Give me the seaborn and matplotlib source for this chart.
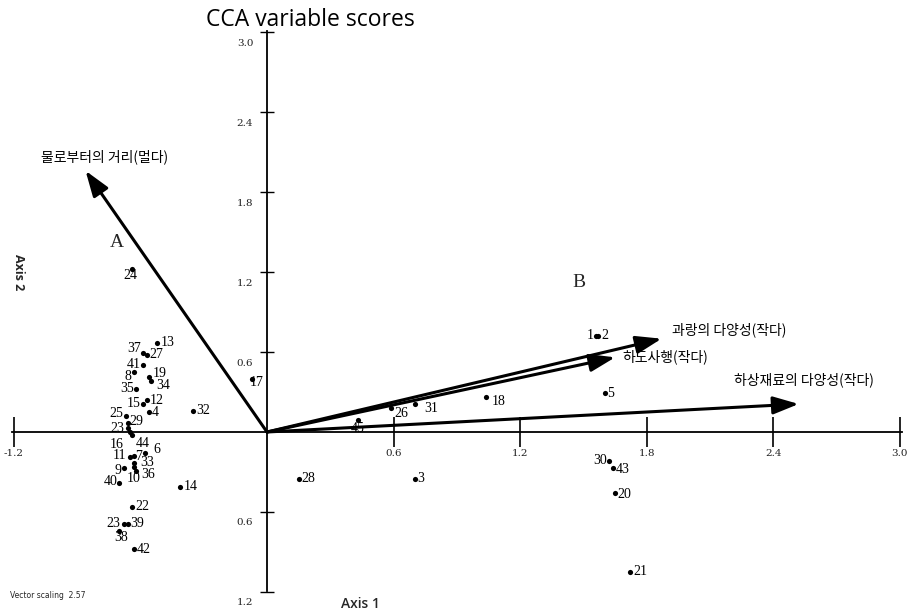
import matplotlib
matplotlib.use("Agg")
import matplotlib.pyplot as plt
import seaborn as sns
import pandas as pd

# ---------------- data ----------------
site_labels = ["13", "37", "27", "41", "19", "8", "34", "35", "15", "12", "4",
               "25", "29", "23", "16", "44", "11", "7", "6", "33", "9", "10",
               "36", "40", "14", "22", "23", "39", "38", "42", "32", "17", "24",
               "28", "3", "45", "26", "31", "18", "1", "2", "5", "30", "43",
               "20", "21"]
site_x = [-0.52, -0.59, -0.57, -0.59, -0.56, -0.63, -0.55, -0.62, -0.59, -0.57, -0.56,
          -0.67, -0.66, -0.66, -0.65, -0.64, -0.65, -0.63, -0.58, -0.63, -0.68, -0.63,
          -0.62, -0.70, -0.41, -0.64, -0.68, -0.66, -0.70, -0.63, -0.35, -0.07, -0.64,
          0.15, 0.70, 0.43, 0.59, 0.70, 1.04, 1.56, 1.57, 1.60, 1.62, 1.64,
          1.65, 1.72]
site_y = [0.67, 0.59, 0.58, 0.50, 0.41, 0.45, 0.38, 0.32, 0.21, 0.24, 0.15,
          0.12, 0.07, 0.03, 0.00, -0.02, -0.19, -0.18, -0.16, -0.23, -0.27, -0.26,
          -0.29, -0.38, -0.41, -0.56, -0.69, -0.69, -0.74, -0.88, 0.16, 0.40, 1.22,
          -0.35, -0.35, 0.09, 0.18, 0.21, 0.26, 0.72, 0.72, 0.29, -0.22, -0.27,
          -0.46, -1.05]

var_names = ["물로부터의 거리(멀다)", "과랑의 다양성(작다)", "하도사행(작다)", "하상재료의 다양성(작다)"]
var_x = [-0.86, 1.87, 1.65, 2.52]
var_y = [1.96, 0.70, 0.56, 0.21]

x_ticks = [-1.2, 0.6, 1.2, 1.8, 2.4, 3.0]
x_tick_labels = ["-1.2", "0.6", "1.2", "1.8", "2.4", "3.0"]
y_ticks = [-1.2, -0.6, 0.6, 1.2, 1.8, 2.4, 3.0]
y_tick_labels = ["1.2", "0.6", "0.6", "1.2", "1.8", "2.4", "3.0"]

# ---------------- styling / layout ----------------
sns.set_theme(style="white")
plt.rcParams["font.family"] = ["Noto Sans CJK KR", "DejaVu Sans"]

W, H = 917, 614
fig = plt.figure(figsize=(W / 100, H / 100), dpi=100)
ax = fig.add_axes([0, 0, 1, 1])
# pixel mapping: origin at (267, 432); 211 px per x unit, 133.3 px per y unit
ax.set_xlim((0 - 267) / 211, (W - 267) / 211)
ax.set_ylim((432 - H) / 133.3, 432 / 133.3)
ax.set_facecolor("white")

# axes through origin
for s in ["top", "right"]:
    ax.spines[s].set_visible(False)
ax.spines["left"].set_position("zero")
ax.spines["bottom"].set_position("zero")
ax.spines["left"].set_bounds(-1.19, 3.01)
ax.spines["bottom"].set_bounds(-1.21, 3.01)
for s in ["left", "bottom"]:
    ax.spines[s].set_color("black")
    ax.spines[s].set_linewidth(1.3)
ax.set_xticks(x_ticks)
ax.set_yticks(y_ticks)
ax.set_xticklabels([])
ax.set_yticklabels([])
ax.tick_params(axis="x", direction="inout", length=22, width=1.2, color="black", bottom=True)
ax.tick_params(axis="y", direction="inout", length=10, width=1.0, color="black", left=True)

tick_font = dict(family="DejaVu Serif", fontsize=7.5, color="#222222")
for v, lab in zip(x_ticks, x_tick_labels):
    ax.annotate(lab, xy=(v, 0), xytext=(0, -21), textcoords="offset pixels",
                ha="center", va="center", **tick_font)
for v, lab in zip(y_ticks, y_tick_labels):
    ax.annotate(lab, xy=(0, v), xytext=(-22, -11), textcoords="offset pixels",
                ha="center", va="center", **tick_font)

# site scores
df = pd.DataFrame({"label": site_labels, "x": site_x, "y": site_y})
sns.scatterplot(data=df, x="x", y="y", ax=ax, color="black", s=14,
                edgecolor="black", linewidth=0, legend=False, zorder=3)
ax.set_xlabel("")
ax.set_ylabel("")

left_side = {"35", "15", "40", "30", "1"}
special = {"16": (-13, -12, "center"), "44": (11, -9, "center"),
           "10": (0, -12, "center"), "36": (12, -4, "center"),
           "38": (2, -7, "center"), "33": (13, 0, "center"),
           "6": (9, 4, "left"), "19": (4, 4, "left"), "34": (5, -4, "left"),
           "29": (2, 1, "left"), "24": (-2, -6, "center"), "17": (-2, -4, "left"),
           "23": (-3, 0, "right"), "31": (10, -4, "left"), "45": (0, -8, "center"),
           "26": (3, -5, "left"), "18": (5, -4, "left"), "2": (3, 1, "left"),
           "43": (3, -2, "left"), "20": (2, -1, "left"), "21": (3, 0, "left"),
           "8": (-3, -4, "right"), "25": (-2, 3, "right"), "11": (-4, 2, "right"),
           "7": (1, -1, "left"), "41": (-2, 1, "right"), "9": (-2, -3, "right"),
           "37": (-2, 5, "right")}
pt_font = dict(family="Liberation Serif", fontsize=10, color="black")
for lab, x, y in zip(site_labels, site_x, site_y):
    if lab in special:
        dx, dy, ha = special[lab]
    elif lab in left_side:
        dx, dy, ha = -2, 1, "right"
    else:
        dx, dy, ha = 3, 0, "left"
    ax.annotate(lab, xy=(x, y), xytext=(dx, dy), textcoords="offset pixels",
                ha=ha, va="center", zorder=4, **pt_font)

# environmental vectors
lab_off = [(-45, 14, "left"), (10, 9, "left"), (7, 1, "left"), (-65, 24, "left")]
for name, vx, vy, (dx, dy, ha) in zip(var_names, var_x, var_y, lab_off):
    ax.annotate("", xy=(vx, vy), xytext=(0, 0),
                arrowprops=dict(arrowstyle="-|>,head_length=1.3,head_width=0.45",
                                color="black", lw=2.2, shrinkA=0, shrinkB=0),
                zorder=2)
    ax.annotate(name, xy=(vx, vy), xytext=(dx, dy), textcoords="offset pixels",
                ha=ha, va="center", fontsize=10, color="black",
                family=["Noto Sans CJK KR", "DejaVu Sans"])

# region letters
ax.text(-0.71, 1.42, "A", family="Liberation Serif", fontsize=14, ha="center", va="center")
ax.text(1.48, 1.12, "B", family="Liberation Serif", fontsize=14, ha="center", va="center")

# titles & annotations
fig.text(310 / W, 1 - 20 / H, "CCA variable scores", family="Open Sans",
         fontsize=16.5, ha="center", va="center", color="black")
fig.text(18 / W, 1 - 272 / H, "Axis 2", family="Open Sans", fontsize=9,
         fontweight="bold", rotation=270, ha="center", va="center")
fig.text(360 / W, 1 - 604 / H, "Axis 1", family="Open Sans", fontsize=10,
         fontweight="semibold", ha="center", va="center")
fig.text(10 / W, 1 - 596 / H, "Vector scaling  2.57", family="DejaVu Sans",
         fontsize=5.5, ha="left", va="center")

fig.savefig("out.png", dpi=100, facecolor="white")
